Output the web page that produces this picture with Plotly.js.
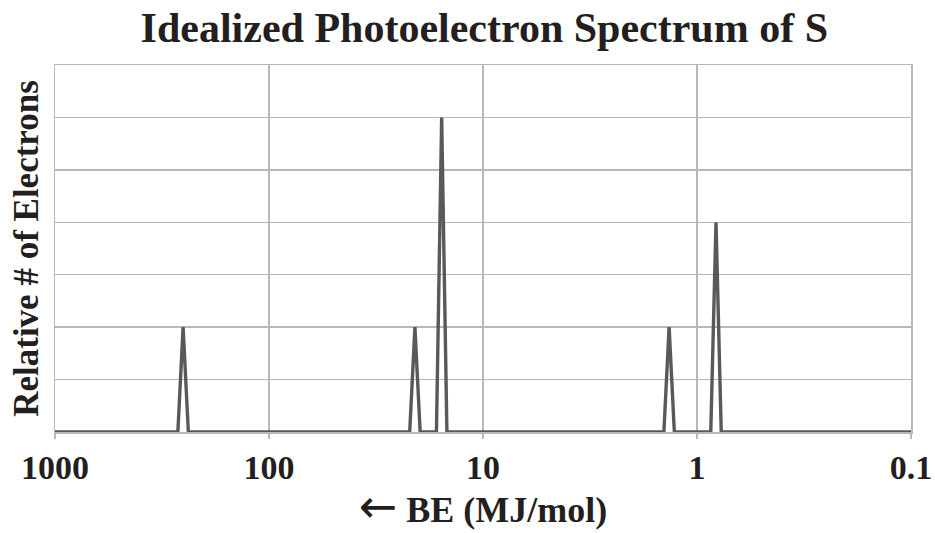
<!DOCTYPE html>
<html>
<head>
<meta charset="utf-8">
<script src="https://cdn.plot.ly/plotly-3.0.1.min.js"></script>
<style>html,body{margin:0;padding:0;background:#fff;}#chart{width:935px;height:533px;}</style>
</head>
<body>
<div id="chart"></div>
<script>
// Peak binding energies (MJ/mol) and relative number of electrons
const peakBE = [252, 20.8, 15.6, 1.35, 0.815];
const peakHeight = [2, 2, 6, 2, 4];
const tickVals = [1000, 100, 10, 1, 0.1];
const tickText = ["1000", "100", "10", "1", "0.1"];
const xStart = 1000, xEnd = 0.1;

// Build idealized spectrum line: baseline with narrow triangular spikes
const spread = 1.058; // multiplicative half-width of each spike
const xs = [xStart], ys = [0];
for (let i = 0; i < peakBE.length; i++) {
  xs.push(peakBE[i] * spread, peakBE[i], peakBE[i] / spread);
  ys.push(0, peakHeight[i], 0);
}
xs.push(xEnd); ys.push(0);

const font = "'Liberation Serif', 'Times New Roman', serif";
const txt = "#231f20";
const grid = "#b8b8bc";

const trace = {
  x: xs, y: ys, type: "scatter", mode: "lines",
  line: {color: "#595959", width: 3.4}, hoverinfo: "skip"
};

const layout = {
  width: 935, height: 533,
  margin: {l: 55, r: 24, t: 65, b: 101},
  paper_bgcolor: "#fff", plot_bgcolor: "#fff",
  showlegend: false,
  title: {text: "<b>Idealized Photoelectron Spectrum of S</b>",
          font: {family: font, size: 42, color: txt},
          x: 0.518, xanchor: "center", y: 0.948, yanchor: "middle", yref: "container"},
  xaxis: {
    type: "log", range: [Math.log10(xStart), Math.log10(xEnd)],
    tickvals: tickVals, ticktext: tickText.map(t => "<b>" + t + "</b>"),
    tickfont: {family: font, size: 34, color: txt},
    ticks: "outside", ticklen: 5, tickcolor: grid, tickwidth: 1.5,
    ticklabelstandoff: 0,
    showgrid: true, gridcolor: grid, gridwidth: 1.5,
    showline: true, linecolor: grid, linewidth: 1.5, mirror: true,
    zeroline: false, fixedrange: true,
    title: {text: "<span style=\"font-family:'DejaVu Sans';font-size:46px;font-weight:normal\">\u2190</span> <b>BE (MJ/mol)</b>",
            font: {family: font, size: 36, color: txt}, standoff: 0}
  },
  yaxis: {
    range: [0, 7], dtick: 1, tick0: 0,
    showticklabels: false, ticks: "",
    showgrid: true, gridcolor: grid, gridwidth: 1.5,
    showline: true, linecolor: grid, linewidth: 1.5, mirror: true,
    zeroline: false, fixedrange: true,
    title: {text: "<b>Relative # of Electrons</b>", font: {family: font, size: 35, color: txt}, standoff: 4}
  }
};

Plotly.newPlot("chart", [trace], layout, {displayModeBar: false, staticPlot: true});
</script>
</body>
</html>
